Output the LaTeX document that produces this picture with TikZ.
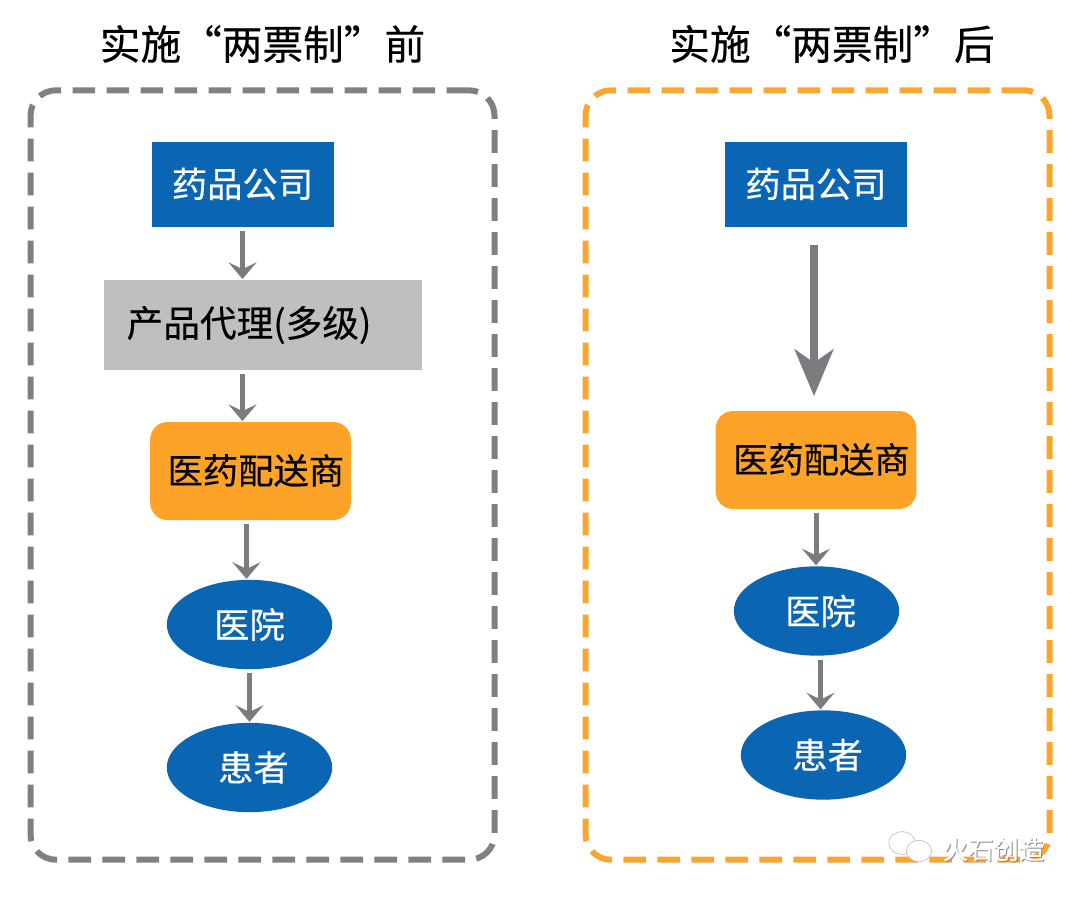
\documentclass[tikz,border=0pt]{standalone}
\usepackage{fontspec}
\setmainfont{Noto Sans CJK SC}[FakeBold=0.35]
\usetikzlibrary{
    shapes.geometric,
    arrows.meta,
    positioning
}
\definecolor{drugblue}{HTML}{0A66B2}
\definecolor{agentgray}{HTML}{BFBFBF}
\definecolor{shiporange}{HTML}{FDA428}
\definecolor{framegray}{HTML}{808080}
\definecolor{frameorange}{HTML}{F9A630}
\definecolor{arrowgray}{HTML}{7B7B80}
\tikzset{
    heading/.style = {
        font=\fontsize{30.5pt}{34pt}\selectfont,
        inner sep=0pt
    },
    groupbox/.style = {
        rectangle,
        rounded corners=19pt,
        line width=4.5pt,
        dash pattern=on 17pt off 8.5pt,
        minimum width=348pt,
        minimum height=577pt
    },
    company/.style = {
        rectangle,
        fill=drugblue,
        text=white,
        inner sep=0pt,
        font=\fontsize{26.5pt}{30pt}\selectfont,
        minimum width=136.5pt,
        minimum height=64pt
    },
    agent/.style = {
        rectangle,
        fill=agentgray,
        inner sep=0pt,
        font=\fontsize{27.5pt}{30pt}\selectfont,
        minimum width=238.5pt,
        minimum height=67.5pt
    },
    shipper/.style = {
        rectangle,
        rounded corners=13pt,
        fill=shiporange,
        inner sep=0pt,
        font=\fontsize{26.5pt}{30pt}\selectfont,
        minimum width=150.5pt,
        minimum height=73.5pt
    },
    terminal/.style = {
        ellipse,
        fill=drugblue,
        text=white,
        inner sep=0pt,
        font=\fontsize{26.5pt}{30pt}\selectfont,
        minimum width=124pt,
        minimum height=67pt
    },
    arrow/.style = {
        -{Stealth[length=12.5pt,width=21pt,inset=5pt]},
        line width=3.75pt,
        arrowgray,
        shorten <=3pt,
        shorten >=0.5pt
    },
    bigarrow/.style = {
        -{Stealth[length=35pt,width=29pt,inset=10pt]},
        line width=5.5pt,
        arrowgray,
        shorten <=13.5pt,
        shorten >=11pt
    },
    markshadow/.style = {
        text=black!45,
        inner sep=0pt,
        font=\fontsize{19pt}{22pt}\selectfont
    },
    markfront/.style = {
        text=white,
        inner sep=0pt,
        font=\fontsize{19pt}{22pt}\selectfont
    },
    bubble/.style = {
        ellipse,
        fill=white,
        draw=black!25,
        line width=0.5pt,
        inner sep=0pt
    }
}
\begin{document}
\begin{tikzpicture}[x=0.75pt,y=-0.75pt]
\useasboundingbox (0,0) rectangle (1080,896);
\node (titleL) [heading] at (262.5,44) {实施“两票制”前};
\node (titleR) [heading] at (832,44) {实施“两票制”后};
\node (before) [groupbox,draw=framegray] at (262.5,475) {};
\node (after) [groupbox,draw=frameorange] at (817.5,475) {};

% left column
\node (drugL) [company] at (242.5,184.5) {\raisebox{3pt}{药品公司}};
\node (agentL) [agent] at (263,325) {\hspace*{-21pt}产品代理(多级)};
\node (shipL) [shipper] at (250.5,471) {\hspace*{8pt}\raisebox{3pt}{医药配送商}};
\node (hospL) [terminal] at (249.5,624.5) {医院};
\node (patientL) [terminal] at (249.5,767.5) {\hspace*{6pt}患者};

% right column
\node (drugR) [company] at (816,184.5) {\raisebox{3pt}{药品公司}};
\node (shipR) [shipper] at (816,460) {\hspace*{8pt}\raisebox{3pt}{医药配送商}};
\node (hospR) [terminal] at (816.5,611) {\hspace*{6pt}医院};
\node (patientR) [terminal] at (823.5,755) {\hspace*{6pt}患者};

\draw[arrow] (drugL.south) -- (drugL.south |- agentL.north);
\draw[arrow] (drugL.south |- agentL.south) -- (drugL.south |- shipL.north);
\draw[arrow] ([xshift=-3pt]shipL.south) -- ([xshift=-3pt]shipL.south |- hospL.north);
\draw[arrow] (hospL.south) -- (hospL.south |- patientL.north);

\draw[bigarrow] ([xshift=-1.5pt]drugR.south) -- ([xshift=-1.5pt]shipR.north);
\draw[arrow] (shipR.south) -- (shipR.south |- hospR.north);
\draw[arrow] ([xshift=3pt]hospR.south) -- ([xshift=3pt]hospR.south |- patientR.north);

% watermark
\node (bubbleA) [bubble,minimum width=20pt,minimum height=17pt] at (902,843) {};
\node (bubbleB) [bubble,minimum width=19pt,minimum height=16pt] at (919,851) {};
\node (markB) [markshadow] at (994.5,850.5) {火石创造};
\node (markF) [markfront] at (993.5,849.5) {火石创造};
\end{tikzpicture}
\end{document}
